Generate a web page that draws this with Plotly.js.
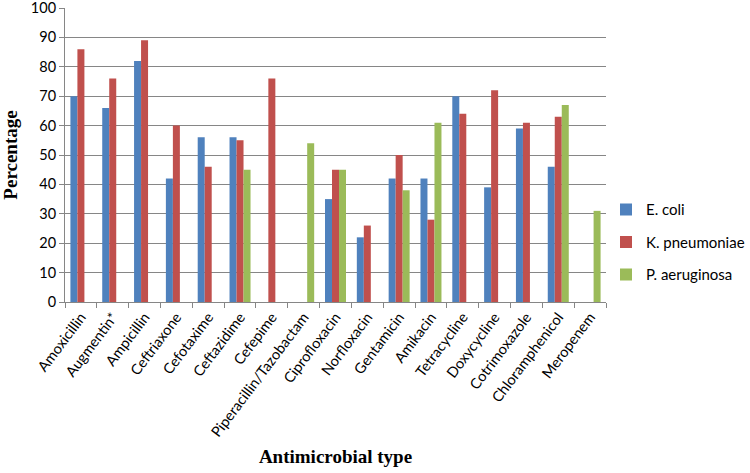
<!DOCTYPE html>
<html>
<head>
<meta charset="utf-8">
<script src="https://cdn.plot.ly/plotly-3.0.1.min.js"></script>
<style>html,body{margin:0;padding:0;background:#fff;}#chart{width:750px;height:473px;}</style>
</head>
<body>
<div id="chart"></div>
<script>
const categories = ["Amoxicillin","Augmentin*","Ampicillin","Ceftriaxone","Cefotaxime","Ceftazidime","Cefepime","Piperacillin/Tazobactam","Ciprofloxacin","Norfloxacin","Gentamicin","Amikacin","Tetracycline","Doxycycline","Cotrimoxazole","Chloramphenicol","Meropenem"];
const eColi =        [70, 66, 82, 42, 56, 56, null, null, 35, 22, 42, 42, 70, 39, 59, 46, null];
const kPneumoniae =  [86, 76, 89, 60, 46, 55, 76, null, 45, 26, 50, 28, 64, 72, 61, 63, null];
const pAeruginosa =  [null, null, null, null, null, 45, null, 54, 45, null, 38, 61, null, null, null, 67, 31];
const yTicks = [0,10,20,30,40,50,60,70,80,90,100];

const series = [
  {name: "E. coli", y: eColi, color: "#4F81BD"},
  {name: "K. pneumoniae", y: kPneumoniae, color: "#C0504D"},
  {name: "P. aeruginosa", y: pAeruginosa, color: "#9BBB59"}
];

const data = series.map(s => ({
  type: "bar",
  name: s.name,
  x: categories,
  y: s.y,
  legendgroup: s.name,
  marker: {color: s.color},
  hoverinfo: "x+y+name"
}));

const layout = {
  width: 750, height: 473,
  margin: {l: 65, r: 144, t: 8, b: 171},
  paper_bgcolor: "#fff", plot_bgcolor: "#fff",
  barmode: "group",
  bargap: 0.34,
  bargroupgap: 0,
  font: {family: "Lato, 'Open Sans', sans-serif", color: "#000", size: 14},
  xaxis: {
    type: "category",
    tickangle: -53,
    ticks: "outside", ticklen: 5, tickcolor: "#868686",
    tickson: "boundaries",
    showline: true, linecolor: "#868686", linewidth: 1,
    showgrid: false, zeroline: false,
    tickfont: {family: "Lato, 'Open Sans', sans-serif", size: 14.5, color: "#000"},
    title: {text: "Antimicrobial type", font: {family: "'Liberation Serif', 'Times New Roman', serif", size: 19, color: "#000", weight: "bold"}, standoff: 10}
  },
  yaxis: {
    range: [0, 100],
    tickvals: yTicks,
    ticklabeloverflow: "allow",
    ticks: "outside", ticklen: 5, tickcolor: "#868686",
    showline: true, linecolor: "#868686", linewidth: 1,
    showgrid: true, gridcolor: "#868686", gridwidth: 1,
    zeroline: false,
    tickfont: {family: "Lato, 'Open Sans', sans-serif", size: 14.5, color: "#000"},
    title: {text: "Percentage", font: {family: "'Liberation Serif', 'Times New Roman', serif", size: 19, color: "#000", weight: "bold"}, standoff: 14}
  },
  legend: {
    xref: "container", yref: "container",
    x: 0.808, xanchor: "left",
    y: 0.488, yanchor: "middle",
    tracegroupgap: 10,
    font: {family: "Lato, 'Open Sans', sans-serif", size: 15, color: "#000"},
    bgcolor: "rgba(0,0,0,0)"
  },
  showlegend: true
};

Plotly.newPlot("chart", data, layout, {displayModeBar: false, staticPlot: true});
</script>
</body>
</html>
